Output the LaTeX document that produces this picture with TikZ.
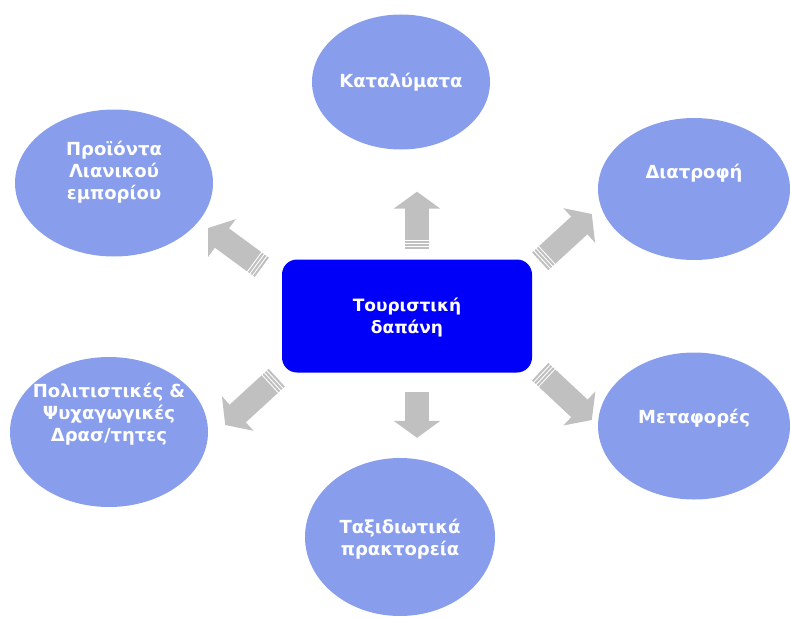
\documentclass[tikz,border=0pt]{standalone}
\usepackage{fontspec}
\setmainfont{DejaVu Sans}
\usetikzlibrary{shapes.geometric,arrows.meta}
\definecolor{ovalblue}{RGB}{136,158,236}
\definecolor{arrowgray}{RGB}{192,192,192}
\definecolor{boxblue}{RGB}{0,0,250}

\begin{document}
\begin{tikzpicture}[x=1pt,y=-1pt,
    every node/.style={align=center,text=white,font=\bfseries\fontsize{18}{22}\selectfont},
    oval/.style={shape=ellipse,fill=ovalblue,inner sep=0pt,inner xsep=-20pt},
    lift/.style={text depth=#1},
    bigarrow/.style={draw=arrowgray,line width=24pt,-{Triangle[width=46pt,length=17pt]},
        dash pattern=on 2pt off 1.2pt on 2pt off 1.2pt on 2pt off 1.2pt on 500pt off 1pt},
    plainarrow/.style={draw=arrowgray,line width=24pt,-{Triangle[width=46pt,length=17pt]}}]
  \useasboundingbox (0,0) rectangle (791,618);
  % centre
  \node[fill=boxblue,rounded corners=15pt,minimum width=250pt,minimum height=113pt,lift=-14pt,
        font=\bfseries\fontsize{17}{22}\selectfont] (box) at (407,316) {Τουριστική\\δαπάνη};
  % ovals round it
  \node[oval,minimum width=178pt,minimum height=135pt] (lodging) at (401,82) {Καταλύματα};
  \node[oval,minimum width=192pt,minimum height=142pt,lift=36pt] (diet) at (694,189) {Διατροφή};
  \node[oval,minimum width=192pt,minimum height=147pt,lift=20pt] (transport) at (694,426) {Μεταφορές};
  \node[oval,minimum width=190pt,minimum height=158pt,lift=-12pt] (agencies) at (400,537) {Ταξιδιωτικά\\πρακτορεία};
  \node[oval,minimum width=198pt,minimum height=147pt,lift=26pt] (retail) at (114,183) {Προϊόντα\\Λιανικού\\εμπορίου};
  \node[oval,minimum width=198pt,minimum height=150pt,lift=40pt] (culture) at (109,432) {Πολιτιστικές \&\\Ψυχαγωγικές\\Δρασ/τητες};
  % arrows
  \draw[bigarrow] ([shift={(10,-10)}]box.north) -- ([shift={(16,42)}]lodging.south);
  \draw[plainarrow] ([shift={(10,19)}]box.south) -- ([shift={(17,-20)}]agencies.north);
  \draw[bigarrow] ([shift={(8,2)}]box.north east) -- ([shift={(-6,25)}]diet.west);
  \draw[bigarrow] ([shift={(8,-1)}]box.south east) -- ([shift={(-6,-6)}]transport.west);
  \draw[bigarrow] ([shift={(-20,8)}]box.north west) -- ([shift={(-5,45)}]retail.east);
  \draw[bigarrow] ([shift={(-5,5)}]box.south west) -- ([shift={(17,-7)}]culture.east);
\end{tikzpicture}
\end{document}
